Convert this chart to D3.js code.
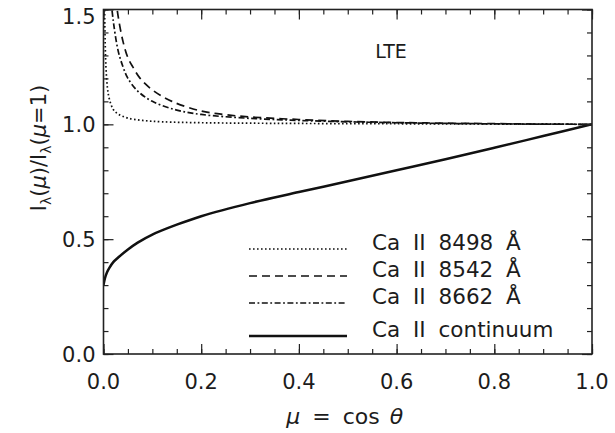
<!DOCTYPE html>
<html>
<head>
<meta charset="utf-8">
<script src="https://cdn.jsdelivr.net/npm/d3@7"></script>
<style>
  body { margin: 0; background: #fff; }
  text { font-family: "DejaVu Sans", "Liberation Sans", sans-serif; fill: #1c1c1c; }
</style>
</head>
<body>
<script>
// mu values and intensity ratios
const contMu  = [0, 0.003, 0.007, 0.012, 0.02, 0.03, 0.05, 0.07, 0.1, 0.15, 0.2, 0.3, 0.4, 0.5, 0.6, 0.7, 0.8, 0.9, 1.0];
const contVal = [0.30, 0.33, 0.355, 0.375, 0.40, 0.42, 0.455, 0.485, 0.52, 0.563, 0.60, 0.657, 0.705, 0.752, 0.80, 0.848, 0.898, 0.949, 1.0];

const mu8498  = [0.002, 0.003, 0.005, 0.008, 0.012, 0.02, 0.03, 0.05, 0.08, 0.12, 0.2, 0.3, 0.5, 0.7, 1.0];
const val8498 = [1.55, 1.40, 1.25, 1.16, 1.11, 1.065, 1.045, 1.027, 1.017, 1.011, 1.007, 1.005, 1.003, 1.002, 1.0];

const mu8542  = [0.025, 0.03, 0.04, 0.05, 0.06, 0.075, 0.1, 0.14, 0.2, 0.25, 0.3, 0.4, 0.5, 0.6, 0.7, 0.8, 0.9, 1.0];
const val8542 = [1.55, 1.47, 1.36, 1.29, 1.25, 1.20, 1.15, 1.10, 1.058, 1.042, 1.032, 1.021, 1.013, 1.008, 1.005, 1.003, 1.001, 1.0];

const mu8662  = [0.015, 0.02, 0.03, 0.04, 0.05, 0.07, 0.1, 0.15, 0.2, 0.3, 0.4, 0.5, 0.6, 0.7, 0.8, 0.9, 1.0];
const val8662 = [1.55, 1.45, 1.32, 1.25, 1.20, 1.145, 1.10, 1.062, 1.043, 1.026, 1.017, 1.011, 1.007, 1.004, 1.002, 1.001, 1.0];

const xTicks = [0, 0.2, 0.4, 0.6, 0.8, 1.0];
const yTicks = [0, 0.5, 1.0, 1.5];
const legendLabels = ["Ca II 8498 Å", "Ca II 8542 Å", "Ca II 8662 Å", "Ca II continuum"];

const series = [
    {mu: mu8498, val: val8498, dash: "1.6,2.4", width: 1.7},
    {mu: mu8542, val: val8542, dash: "8,5", width: 1.7},
    {mu: mu8662, val: val8662, dash: "6,2.5,1.8,2.5", width: 1.7},
    {mu: contMu, val: contVal, dash: null, width: 2.5}
];

const width = 615, height = 433;
const margin = {top: 9.5, right: 23, bottom: 79, left: 103.5};

const svg = d3.select("body").append("svg")
    .attr("width", width)
    .attr("height", height);

const x = d3.scaleLinear().domain([0, 1]).range([margin.left, width - margin.right]);
const y = d3.scaleLinear().domain([0, 1.5]).range([height - margin.bottom, margin.top]);

svg.append("clipPath").attr("id", "plot")
    .append("rect")
    .attr("x", x(0)).attr("y", y(1.5))
    .attr("width", x(1) - x(0)).attr("height", y(0) - y(1.5));

const line = d3.line()
    .x(d => x(d[0]))
    .y(d => y(d[1]))
    .curve(d3.curveCatmullRom.alpha(0.5));

const curves = svg.append("g").attr("clip-path", "url(#plot)");
series.forEach(s => {
    curves.append("path")
        .datum(s.mu.map((m, i) => [m, s.val[i]]))
        .attr("d", line)
        .attr("fill", "none")
        .attr("stroke", "#111")
        .attr("stroke-width", s.width)
        .attr("stroke-dasharray", s.dash);
});

// axes: ticks point inward, on all four sides
const xMinor = d3.range(0, 1.0001, 0.05);
const yMinor = d3.range(0, 1.5001, 0.1);

function ticks(axis, pos, vals, size) {
    svg.append("g")
        .attr("transform", pos)
        .call(axis.tickValues(vals).tickSize(size).tickFormat(""))
        .call(g => g.select(".domain").remove());
}
ticks(d3.axisTop(x), `translate(0,${y(0)})`, xMinor, 5);
ticks(d3.axisTop(x), `translate(0,${y(0)})`, xTicks, 10);
ticks(d3.axisBottom(x), `translate(0,${y(1.5)})`, xMinor, 5);
ticks(d3.axisBottom(x), `translate(0,${y(1.5)})`, xTicks, 10);
ticks(d3.axisRight(y), `translate(${x(0)},0)`, yMinor, 5);
ticks(d3.axisRight(y), `translate(${x(0)},0)`, yTicks, 10);
ticks(d3.axisLeft(y), `translate(${x(1)},0)`, yMinor, 5);
ticks(d3.axisLeft(y), `translate(${x(1)},0)`, yTicks, 10);

svg.selectAll(".tick line").attr("stroke", "#222").attr("stroke-width", 1.2);

svg.append("rect")
    .attr("x", x(0)).attr("y", y(1.5))
    .attr("width", x(1) - x(0)).attr("height", y(0) - y(1.5))
    .attr("fill", "none")
    .attr("stroke", "#222")
    .attr("stroke-width", 1.6);

// tick labels
svg.append("g").selectAll("text")
    .data(xTicks)
    .join("text")
    .attr("x", d => x(d))
    .attr("y", y(0) + 35)
    .attr("text-anchor", "middle")
    .attr("font-size", 21)
    .text(d => d.toFixed(1));

svg.append("g").selectAll("text")
    .data(yTicks)
    .join("text")
    .attr("x", x(0) - 8)
    .attr("y", d => y(d) + (d === 1.5 ? 7 : 0))
    .attr("dy", "0.36em")
    .attr("text-anchor", "end")
    .attr("font-size", 21)
    .text(d => d.toFixed(1));

// axis titles
const xt = svg.append("text")
    .attr("x", (x(0) + x(1)) / 2 - 3)
    .attr("y", 424)
    .attr("text-anchor", "middle")
    .attr("font-size", 22);
xt.append("tspan").attr("font-style", "italic").text("μ");
xt.append("tspan").attr("dx", 12).text("=");
xt.append("tspan").attr("dx", 12).text("cos");
xt.append("tspan").attr("dx", 10).attr("font-style", "italic").text("θ");

const yt = svg.append("text")
    .attr("transform", `translate(46,148) rotate(-90)`)
    .attr("text-anchor", "middle")
    .attr("font-size", 21);
yt.append("tspan").text("I");
yt.append("tspan").attr("font-size", 14).attr("dy", 5).text("λ");
yt.append("tspan").attr("dy", -5).text("(");
yt.append("tspan").attr("font-style", "italic").text("μ");
yt.append("tspan").text(")/I");
yt.append("tspan").attr("font-size", 14).attr("dy", 5).text("λ");
yt.append("tspan").attr("dy", -5).text("(");
yt.append("tspan").attr("font-style", "italic").text("μ");
yt.append("tspan").text("=1)");

svg.append("text")
    .attr("x", 391)
    .attr("y", 58)
    .attr("text-anchor", "middle")
    .attr("font-size", 19)
    .text("LTE");

// legend
const legendY = [250, 277, 304, 337];
const legend = svg.append("g");
series.forEach((s, i) => {
    legend.append("line")
        .attr("x1", 249).attr("x2", 347)
        .attr("y1", legendY[i] - 1).attr("y2", legendY[i] - 1)
        .attr("stroke", "#111")
        .attr("stroke-width", s.width)
        .attr("stroke-dasharray", s.dash);
    legend.append("text")
        .attr("x", 372)
        .attr("y", legendY[i])
        .attr("font-size", 21.5)
        .attr("word-spacing", 6)
        .text(legendLabels[i]);
});
</script>
</body>
</html>
